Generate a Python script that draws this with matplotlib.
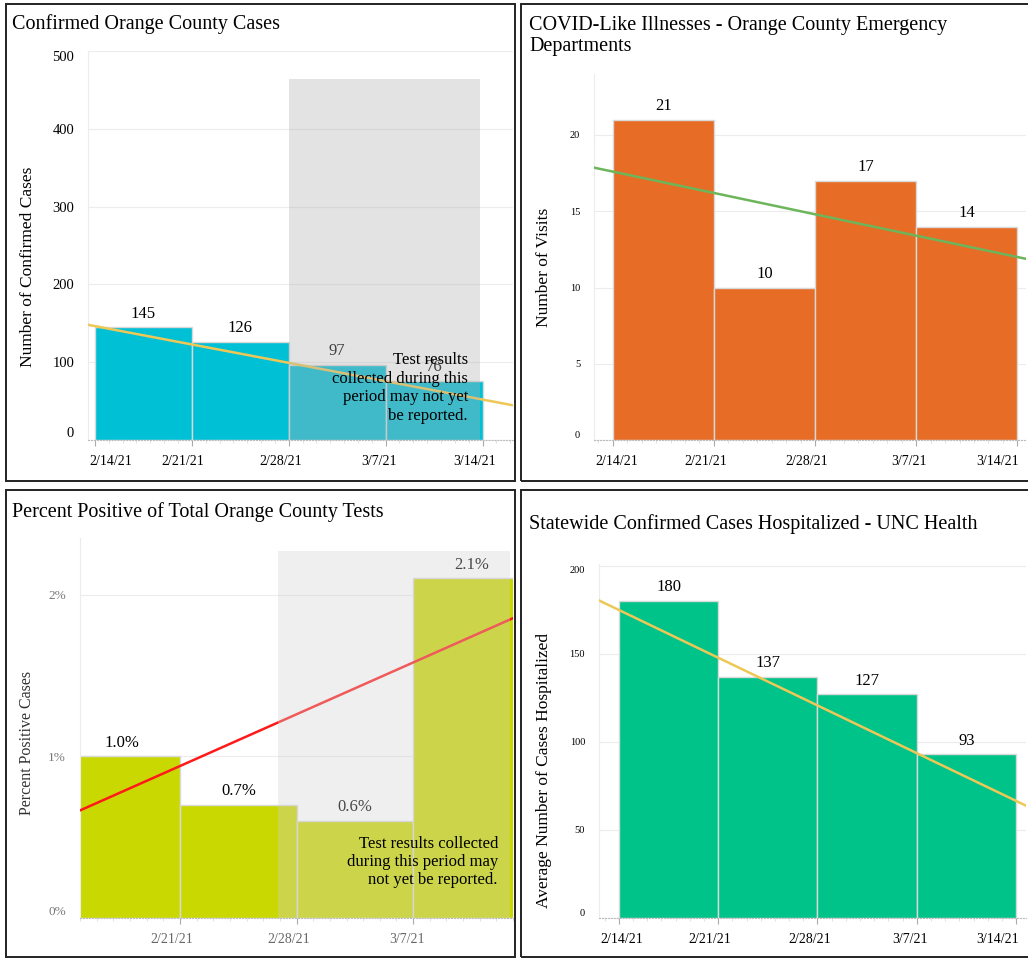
import numpy as np
import matplotlib
matplotlib.use('Agg')
import matplotlib.pyplot as plt
from matplotlib.patches import Rectangle
from matplotlib.ticker import MultipleLocator
from matplotlib.transforms import ScaledTranslation

plt.rcParams['font.family'] = ['Liberation Serif', 'DejaVu Serif']

# -----------------------------
# Data (x in days after 2/14/21)
# -----------------------------
week_starts = [0, 7, 14, 21]
tick_days = [0, 7, 14, 21, 28]
tick_labels = ['2/14/21', '2/21/21', '2/28/21', '3/7/21', '3/14/21']

cases = [145, 126, 97, 76]
visits = [21, 10, 17, 14]
pct_positive = [1.0, 0.7, 0.6, 2.1]
hospitalized = [180, 137, 127, 93]

note_cases = 'Test results\ncollected during this\nperiod may not yet\nbe reported.'
note_pct = 'Test results collected\nduring this period may\nnot yet be reported.'

W, H = 1028, 959
fig = plt.figure(figsize=(W / 100, H / 100), dpi=100)


def px_axes(x0, y0, x1, y1):
    return fig.add_axes([x0 / W, 1 - y1 / H, (x1 - x0) / W, (y1 - y0) / H])


def ftext(x, y, s, **kw):
    fig.text(x / W, 1 - y / H, s, **kw)


def border(x0, y0, x1, y1):
    fig.add_artist(Rectangle((x0 / W, 1 - y1 / H), (x1 - x0) / W, (y1 - y0) / H,
                             transform=fig.transFigure, fill=False,
                             ec='#222222', lw=1.4, clip_on=False))


def setup(ax, xlim, ylim, yticks, ytick_fs, ycolor, xcolor, xoffs):
    ax.set_yticks(yticks)
    ax.set_xticks(tick_days)
    ax.set_xticklabels(tick_labels)
    ax.set_xlim(*xlim)
    ax.set_ylim(*ylim)
    ax.grid(axis='y', color='#ececec', lw=0.8)
    ax.set_axisbelow(True)
    for s in ['top', 'right']:
        ax.spines[s].set_visible(False)
    ax.spines['left'].set_color('#ececec')
    ax.spines['bottom'].set_color('#bbbbbb')
    ax.spines['bottom'].set_linestyle(':')
    ax.tick_params(axis='y', length=0, pad=10, labelsize=ytick_fs, labelcolor=ycolor)
    ax.tick_params(axis='x', length=4, color='#aaaaaa', pad=7, labelsize=10, labelcolor=xcolor)
    ax.xaxis.set_minor_locator(MultipleLocator(1))
    ax.tick_params(axis='x', which='minor', length=2, color='#dddddd')
    for lab, dx in zip(ax.get_xticklabels(), xoffs):
        lab.set_transform(lab.get_transform() + ScaledTranslation(dx / 100, 0, fig.dpi_scale_trans))
    ax.get_yticklabels()[0].set_va('bottom')


def bars(ax, values, color, fmt):
    ax.bar(week_starts, values, width=7, align='edge', color=color,
           edgecolor='#d9d9d9', lw=1, zorder=2)
    for x, v in zip(week_starts, values):
        ax.annotate(fmt.format(v), (x + 3.5, v), xytext=(0, 4), textcoords='offset points',
                    ha='center', va='bottom', fontsize=12, zorder=3)


def trend(ax, values, color):
    k, b = np.polyfit(week_starts, values, 1)
    xs = np.array(ax.get_xlim())
    ax.plot(xs, k * xs + b, color=color, lw=1.8, zorder=3)
    ax.set_xlim(*xs)


# -----------------------------
# Confirmed Orange County Cases
# -----------------------------
border(6, 4, 515, 481)
ax1 = px_axes(88, 51, 513, 440)
setup(ax1, (-0.5, 30.2), (0, 500), [0, 100, 200, 300, 400, 500], 10.5, 'black', 'black',
      [16, -9, -8, -7, -8])
ax1.get_yticklabels()[-1].set_va('top')
bars(ax1, cases, '#00c0d6', '{}')
trend(ax1, cases, '#eec857')
ax1.add_patch(Rectangle((14, 0), 13.85, 464, fc='#b2b2b2', alpha=0.36, lw=0, zorder=4))
ftext(12, 24, 'Confirmed Orange County Cases', fontsize=14.5, va='center')
ftext(28, 267, 'Number of Confirmed Cases', fontsize=12.5, rotation=90, ha='center', va='center')
ftext(468, 388, note_cases, fontsize=12, ha='right', va='center', multialignment='right',
      linespacing=1.2)

# -----------------------------
# COVID-Like Illnesses
# -----------------------------
border(521, 4, 1032, 481)
ax2 = px_axes(594, 74, 1026, 440)
setup(ax2, (-1.3, 28.6), (0, 24), [0, 5, 10, 15, 20], 7.5, 'black', 'black',
      [4, -8, -8, -7, -20])
bars(ax2, visits, '#e76c26', '{}')
trend(ax2, visits, '#6db55a')
ftext(529, 36, 'COVID-Like Illnesses - Orange County Emergency\nDepartments', fontsize=14.5,
      va='center', linespacing=1.2)
ftext(544, 267, 'Number of Visits', fontsize=12.5, rotation=90, ha='center', va='center')

# -----------------------------
# Percent Positive
# -----------------------------
border(6, 490, 515, 957)
ax3 = px_axes(80, 538, 513, 918)
setup(ax3, (0.99, 27.0), (0, 2.35), [0, 1, 2], 9.5, '#777777', '#666666',
      [0, -8, -8, -6, 0])
ax3.set_yticklabels(['0%', '1%', '2%'])
ax3.get_yticklabels()[0].set_va('bottom')
bars(ax3, pct_positive, '#c9d800', '{:.1f}%')
trend(ax3, pct_positive, '#ff1a1a')
ax3.add_patch(Rectangle((12.89, 0), 13.94, 2.27, fc='#d2d2d2', alpha=0.35, lw=0, zorder=4))
ftext(12, 512, 'Percent Positive of Total Orange County Tests', fontsize=14.5, va='center')
ftext(27, 743, 'Percent Positive Cases', fontsize=11.5, rotation=90, ha='center', va='center',
      color='#333333')
ftext(498, 862, note_pct, fontsize=12, ha='right', va='center', multialignment='right',
      linespacing=1.2)

# -----------------------------
# Statewide Hospitalized
# -----------------------------
border(521, 490, 1032, 957)
ax4 = px_axes(599, 564, 1026, 918)
setup(ax4, (-1.4, 28.7), (0, 201), [0, 50, 100, 150, 200], 7.5, 'black', 'black',
      [3, -8, -8, -7, -19])
ax4.get_yticklabels()[-1].set_va('top')
bars(ax4, hospitalized, '#00c389', '{}')
trend(ax4, hospitalized, '#eec857')
ftext(529, 524, 'Statewide Confirmed Cases Hospitalized - UNC Health', fontsize=14.5, va='center')
ftext(544, 770, 'Average Number of Cases Hospitalized', fontsize=12.5, rotation=90,
      ha='center', va='center')

fig.savefig('out.png', dpi=100)
